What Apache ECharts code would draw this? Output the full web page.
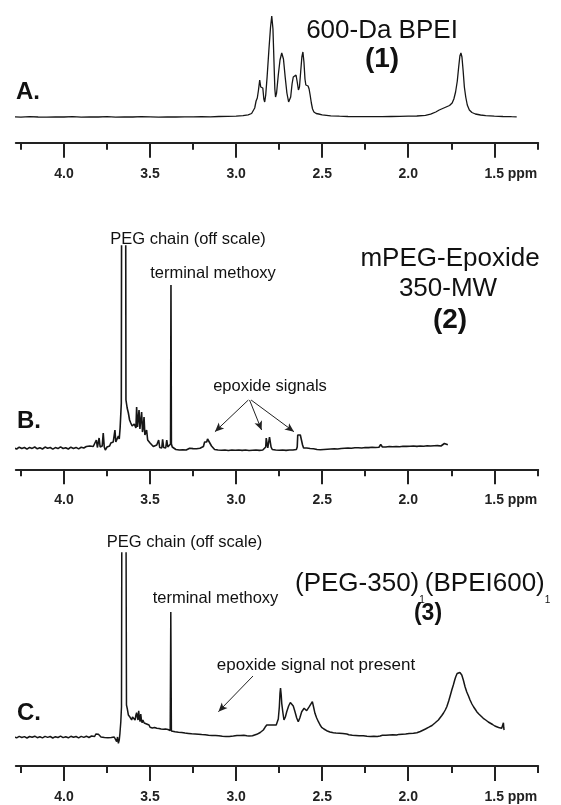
<!DOCTYPE html>
<html><head><meta charset="utf-8">
<script src="https://cdn.jsdelivr.net/npm/echarts@6/dist/echarts.min.js"></script>
<style>html,body{margin:0;padding:0;background:#fff}#c{width:561px;height:805px}</style>
</head><body><div id="c"></div>
<script>
// ---- tick labels (ppm) ----
const majorTicks = [4.0, 3.5, 3.0, 2.5, 2.0, 1.5];
const minorTicks = [4.25, 3.75, 3.25, 2.75, 2.25, 1.75, 1.25];

// ---- spectrum A: 600-Da BPEI  [ppm, intensity] ----
const specA = [[4.29,0.2],[4.25,-0.1],[4.2,0.3],[4.15,0],[4.1,-0.2],[4.05,0.2],[4.0,0],[3.95,0.3],[3.9,-0.1],[3.85,0.2],[3.8,0],[3.75,0.3],[3.7,-0.1],[3.65,0.2],[3.6,0],[3.55,0.3],[3.5,0.1],[3.45,-0.1],[3.4,0.2],[3.35,0],[3.3,0.2],[3.25,0.1],[3.2,0.3],[3.15,0.2],[3.1,0.5],[3.05,0.6],[3.0,0.8],[2.96,1.3],[2.93,2.2],[2.91,3.5],[2.9,5],[2.892,9],[2.884,16],[2.877,19],[2.87,27],[2.863,37],[2.857,30],[2.851,32],[2.845,29],[2.839,18],[2.834,15],[2.828,22],[2.82,40],[2.81,66],[2.8,90],[2.793,101],[2.786,88],[2.78,55],[2.775,28],[2.771,20],[2.765,24],[2.755,42],[2.745,57],[2.735,64],[2.725,58],[2.715,40],[2.705,24],[2.695,15],[2.69,14],[2.683,20],[2.675,33],[2.668,40],[2.66,39],[2.652,42],[2.645,35],[2.638,27],[2.632,30],[2.625,45],[2.618,60],[2.612,65],[2.606,55],[2.6,38],[2.595,32],[2.59,31],[2.582,31],[2.576,28],[2.57,22],[2.563,14],[2.556,8],[2.548,5],[2.535,3.5],[2.52,3],[2.5,2.2],[2.45,1.2],[2.4,0.8],[2.35,0.5],[2.3,0.4],[2.25,0.3],[2.2,0.4],[2.15,0.3],[2.1,0.5],[2.05,0.6],[2.0,0.8],[1.95,1],[1.9,1.6],[1.87,2.8],[1.84,5],[1.82,7],[1.8,8.5],[1.78,10],[1.76,11.5],[1.745,14],[1.735,18],[1.725,25],[1.715,36],[1.707,50],[1.7,61],[1.694,64],[1.688,60],[1.681,46],[1.674,30],[1.666,20],[1.657,12],[1.645,7],[1.63,4.5],[1.61,3],[1.58,2],[1.55,1.3],[1.5,0.8],[1.45,0.5],[1.4,0.3],[1.37,0.2]];

// ---- spectrum B: mPEG-Epoxide 350-MW ----
const specB = [[4.29,0],[4.275,-1],[4.26,0.8],[4.245,-0.5],[4.23,0.5],[4.215,-1.2],[4.2,0.6],[4.185,-0.4],[4.17,1],[4.155,-0.8],[4.14,0.3],[4.125,-1],[4.11,0.9],[4.095,-0.3],[4.08,0.5],[4.065,-1.1],[4.05,0.4],[4.035,-0.6],[4.02,1.1],[4.005,-0.5],[3.99,0.3],[3.975,-1],[3.96,0.8],[3.945,-0.4],[3.93,0.6],[3.915,-0.9],[3.9,0.7],[3.885,0],[3.87,1.5],[3.86,0.5],[3.85,2],[3.84,0.5],[3.83,1.5],[3.82,0.5],[3.812,8],[3.806,0.5],[3.8,2],[3.796,10],[3.79,1],[3.784,-1],[3.778,2],[3.772,15],[3.766,1],[3.76,-2],[3.756,-3.5],[3.75,1],[3.742,3],[3.735,2],[3.728,5],[3.72,3],[3.714,6],[3.708,4],[3.704,18],[3.699,6],[3.694,7],[3.688,5],[3.684,12],[3.679,9],[3.674,20],[3.67,34],[3.667,45],[3.664,400],[3.658,3000],[3.648,3000],[3.643,400],[3.64,48],[3.633,40],[3.626,35],[3.619,28],[3.612,25],[3.604,22],[3.597,20],[3.592,24],[3.587,26],[3.582,20],[3.578,41],[3.573,21],[3.568,22],[3.564,38],[3.559,19],[3.554,18],[3.549,36],[3.544,16],[3.54,20],[3.535,31],[3.53,13],[3.525,15],[3.52,18],[3.514,8],[3.507,9],[3.5,5],[3.492,3],[3.481,1.5],[3.47,2],[3.461,3],[3.455,1],[3.45,8],[3.444,0.5],[3.438,1],[3.432,0],[3.427,8.7],[3.421,0.5],[3.415,1],[3.409,0],[3.403,8],[3.397,1],[3.392,1.3],[3.386,3],[3.381,4],[3.3785,163],[3.376,4],[3.371,1],[3.365,0],[3.36,-0.5],[3.35,-1.5],[3.34,0],[3.33,-2],[3.32,-0.5],[3.31,-1.8],[3.3,-0.3],[3.29,-2],[3.28,-1],[3.27,-0.2],[3.26,-1.8],[3.25,-0.6],[3.24,-2.2],[3.23,-0.8],[3.22,-1.5],[3.21,-0.3],[3.2,-1.2],[3.19,1.5],[3.183,6],[3.177,8],[3.171,6],[3.166,9],[3.162,8],[3.156,6],[3.15,4],[3.143,2],[3.135,0],[3.125,-1.5],[3.115,-0.5],[3.105,-2],[3.095,-1],[3.085,-2.2],[3.075,-0.8],[3.065,-2],[3.055,-1.2],[3.045,-2.5],[3.035,-1],[3.025,-2],[3.015,-0.8],[3.005,-2.3],[2.995,-1.2],[2.985,-2],[2.975,-0.6],[2.965,-2.4],[2.955,-1.2],[2.945,-2],[2.935,-1],[2.925,-2.5],[2.915,-1.2],[2.905,-2.2],[2.895,-0.8],[2.885,-2],[2.875,-1],[2.865,-2.4],[2.855,-1],[2.845,-2],[2.835,-1.2],[2.828,1],[2.825,10],[2.82,9],[2.816,0],[2.81,1],[2.806,11],[2.801,10],[2.797,1],[2.79,-1.5],[2.78,-0.5],[2.77,-2],[2.76,-1],[2.75,-2.2],[2.74,-0.8],[2.73,-2],[2.72,-1],[2.71,-2.4],[2.7,-1],[2.69,-2],[2.68,-0.8],[2.67,-2],[2.66,-1],[2.65,-1.5],[2.645,1],[2.642,13],[2.637,14],[2.632,12],[2.627,13],[2.622,11],[2.618,12],[2.614,3],[2.608,0],[2.6,-1.5],[2.59,0],[2.58,-1.8],[2.57,-0.5],[2.56,-2],[2.55,-0.8],[2.54,0.3],[2.53,-1.5],[2.52,0],[2.51,-1.8],[2.5,-0.3],[2.49,-1.5],[2.48,0.2],[2.47,-1.2],[2.46,0.5],[2.45,-1],[2.44,0.8],[2.43,-0.8],[2.42,0.6],[2.41,-1],[2.4,0.8],[2.39,-0.5],[2.38,1.2],[2.37,-0.2],[2.36,1.5],[2.35,0],[2.34,1.2],[2.33,-0.3],[2.32,1.4],[2.31,0.2],[2.3,1.6],[2.29,0.3],[2.28,1.2],[2.27,0],[2.26,2],[2.25,0.5],[2.24,1.5],[2.23,0.4],[2.22,2.2],[2.21,0.8],[2.2,1.6],[2.19,0.5],[2.18,2],[2.17,0.8],[2.16,3.5],[2.15,1],[2.14,2.2],[2.13,1],[2.12,3],[2.11,1.5],[2.1,2.8],[2.09,1.2],[2.08,3.2],[2.07,1.5],[2.06,2.6],[2.05,1.3],[2.04,3],[2.03,1.8],[2.02,3.4],[2.01,1.6],[2.0,3],[1.99,1.8],[1.98,3.5],[1.97,2],[1.96,3.2],[1.95,1.6],[1.94,3.6],[1.93,2],[1.92,3.4],[1.91,1.8],[1.9,3.8],[1.89,2.2],[1.88,3.2],[1.87,2],[1.86,3.6],[1.85,2.2],[1.84,3],[1.83,2.4],[1.82,4],[1.81,2],[1.8,3.5],[1.79,4.5],[1.78,2.5],[1.77,3.2]];

// ---- spectrum C: (PEG-350)1(BPEI600)1 ----
const specC = [[4.29,0],[4.275,-0.8],[4.26,0.6],[4.245,-0.5],[4.23,0.4],[4.215,-1],[4.2,0.5],[4.185,-0.3],[4.17,0.8],[4.155,-0.7],[4.14,0.2],[4.125,-0.9],[4.11,0.6],[4.095,-0.4],[4.08,0.5],[4.065,-1],[4.05,0.3],[4.035,-0.5],[4.02,0.9],[4.005,-0.6],[3.99,0.2],[3.975,-0.8],[3.96,0.7],[3.945,-0.3],[3.93,0.5],[3.915,-0.9],[3.9,0.6],[3.885,-0.4],[3.87,0.8],[3.855,-0.5],[3.84,1],[3.83,2.5],[3.822,0.5],[3.815,3],[3.808,1.2],[3.8,2.7],[3.792,1],[3.785,0],[3.775,-1.3],[3.765,-0.5],[3.755,-1.5],[3.745,-0.8],[3.735,-1.6],[3.725,-0.6],[3.715,-1.3],[3.708,0],[3.704,2],[3.699,-2],[3.694,-4.7],[3.689,0],[3.684,-6.3],[3.679,-3],[3.675,3.7],[3.67,15],[3.666,30],[3.663,300],[3.658,3000],[3.647,3000],[3.641,300],[3.637,32],[3.632,28],[3.626,22],[3.621,20],[3.616,19.7],[3.611,18],[3.607,17],[3.602,20],[3.597,21],[3.592,18],[3.587,17],[3.582,22],[3.578,24.3],[3.574,20],[3.57,17],[3.566,26.3],[3.562,19],[3.558,15.3],[3.554,23],[3.55,17],[3.546,14.3],[3.542,17],[3.539,18.7],[3.534,14],[3.53,12],[3.525,13.5],[3.52,13],[3.512,11],[3.506,12],[3.5,9.7],[3.494,10.5],[3.487,9],[3.481,11],[3.474,9.5],[3.467,8.5],[3.461,8.7],[3.455,10],[3.448,8.5],[3.442,9.3],[3.436,8],[3.43,8.5],[3.423,7.7],[3.416,7.5],[3.41,8],[3.403,7],[3.396,7.5],[3.388,6.3],[3.383,6.5],[3.3795,125],[3.376,6],[3.37,6.3],[3.365,6.3],[3.355,5.2],[3.345,6],[3.335,4.8],[3.326,5.3],[3.316,4.5],[3.306,5.2],[3.297,4],[3.287,4.3],[3.277,3.6],[3.268,4.5],[3.258,3.2],[3.248,3.7],[3.238,3],[3.228,4],[3.219,2.8],[3.21,3],[3.2,2.4],[3.19,3.4],[3.18,2.2],[3.17,3],[3.16,1.8],[3.15,2.6],[3.14,1.6],[3.13,2.5],[3.12,1.4],[3.113,2],[3.1,1.2],[3.09,2],[3.08,0.8],[3.07,1.8],[3.06,0.6],[3.05,1.5],[3.04,0.5],[3.03,1.4],[3.016,1],[3.005,0.5],[2.995,1.6],[2.985,0.6],[2.975,1.5],[2.965,0.8],[2.955,1.8],[2.945,0.8],[2.938,1.3],[2.925,1],[2.915,1.8],[2.905,1.2],[2.895,2.2],[2.88,2.7],[2.87,3.5],[2.86,4.5],[2.851,5.3],[2.842,7],[2.832,9.7],[2.822,12],[2.813,14],[2.806,12],[2.799,11],[2.793,12],[2.787,13],[2.78,12],[2.774,10.5],[2.767,12],[2.761,14],[2.755,18],[2.749,30],[2.745,44],[2.742,49],[2.738,42],[2.735,33.7],[2.728,24],[2.722,17],[2.714,20],[2.706,25.3],[2.695,31],[2.685,34.5],[2.677,35.3],[2.668,31],[2.658,25.3],[2.648,19],[2.639,15.3],[2.63,19],[2.619,25.3],[2.612,27],[2.605,28.7],[2.598,27],[2.59,26.3],[2.582,28],[2.575,30.3],[2.566,32],[2.557,35.3],[2.55,30],[2.542,23.7],[2.532,19],[2.522,15.3],[2.512,12],[2.503,9.7],[2.49,8],[2.474,6.3],[2.455,5],[2.435,4.3],[2.42,4],[2.41,3.2],[2.4,3.8],[2.39,2.8],[2.38,3.5],[2.37,2.6],[2.357,3],[2.345,2.2],[2.335,2.8],[2.325,1.8],[2.315,2.4],[2.305,1.5],[2.295,2.2],[2.285,1.2],[2.275,2],[2.261,1.3],[2.25,1.8],[2.24,0.8],[2.23,1.6],[2.22,0.6],[2.21,1.5],[2.2,0.8],[2.19,1.6],[2.18,0.6],[2.164,1],[2.15,1.7],[2.14,0.8],[2.13,1.8],[2.12,1],[2.11,2],[2.1,1.2],[2.09,2.2],[2.08,1.4],[2.067,2],[2.055,2.6],[2.045,1.8],[2.035,2.8],[2.025,2.2],[2.015,3],[2.005,2.6],[1.995,3.4],[1.985,2.8],[1.97,3.7],[1.96,4.5],[1.95,4.2],[1.94,5.2],[1.93,5.5],[1.92,6.5],[1.912,7],[1.9,8],[1.89,8.8],[1.88,9.8],[1.87,10.5],[1.862,11.5],[1.854,12],[1.845,14],[1.835,15.5],[1.825,17],[1.815,18.7],[1.805,21.5],[1.795,24],[1.785,27],[1.776,30.3],[1.765,36],[1.755,42],[1.747,47],[1.738,52],[1.73,57],[1.724,60.3],[1.716,63.5],[1.709,65.3],[1.7,64.5],[1.689,62],[1.68,57],[1.67,50.3],[1.66,45],[1.65,41],[1.641,37],[1.63,33],[1.62,30],[1.61,27.5],[1.602,25.3],[1.59,23],[1.58,21.5],[1.564,18.7],[1.55,17],[1.535,15],[1.525,13.7],[1.51,12.5],[1.497,11],[1.486,10.3],[1.475,9.5],[1.465,10],[1.457,8.7],[1.45,9.5],[1.447,14.3],[1.445,9],[1.443,7]];

// ---- annotation arrows (data coordinates: [ppm, intensity]) ----
const arrowsB = [[[2.929,48],[3.123,16.3]],[[2.922,48],[2.852,18]],[[2.913,48],[2.664,16.3]]];
const arrowsC = [[[2.902,61],[3.103,25.3]]];

const FONT = '"Liberation Sans", Arial, Helvetica, sans-serif';
const INK = '#161616';

const panels = [
  {top: 10,  height: 132.7, ymin: -25.7, ymax: 107, data: specA, arrows: [], lw: 1.3},
  {top: 246, height: 223.3, ymin: -21.3, ymax: 202, data: specB, arrows: arrowsB, lw: 1.6},
  {top: 553, height: 213,   ymin: -29,   ymax: 184, data: specC, arrows: arrowsC, lw: 1.5}
];

const grid = [], xAxis = [], yAxis = [], series = [];
panels.forEach((p, i) => {
  grid.push({left: 15.8, width: 522.4, top: p.top, height: p.height, containLabel: false, outerBoundsMode: 'none'});
  const base = {type: 'value', gridIndex: i, position: 'bottom', inverse: true, min: 1.245, max: 4.28,
    splitLine: {show: false}, minorTick: {show: false}};
  xAxis.push(Object.assign({}, base, {
    axisLine: {show: true, onZero: false, lineStyle: {color: '#222', width: 2}},
    axisTick: {show: true, customValues: majorTicks, length: 15, lineStyle: {color: '#222', width: 2}},
    axisLabel: {show: true, customValues: majorTicks, margin: 24,
      formatter: v => Math.abs(v - 1.5) < 1e-6 ? '{s|}{v|1.5}{g|}{p|ppm}' : '{v|' + v.toFixed(1) + '}',
      rich: {
        s: {width: 33},
        v: {fontFamily: FONT, fontSize: 14, fontWeight: 'bold', color: '#222'},
        g: {width: 4},
        p: {fontFamily: FONT, fontSize: 14, fontWeight: 'bold', color: '#222', width: 29, align: 'left'}
      }}
  }));
  xAxis.push(Object.assign({}, base, {
    axisLine: {show: false, onZero: false},
    axisTick: {show: true, customValues: minorTicks, length: 7, lineStyle: {color: '#222', width: 2}},
    axisLabel: {show: false}
  }));
  yAxis.push({type: 'value', gridIndex: i, show: false, min: p.ymin, max: p.ymax, splitLine: {show: false}});
  const s = {
    type: 'line', xAxisIndex: 2 * i, yAxisIndex: i, data: p.data, showSymbol: false, symbol: 'none',
    clip: true, silent: true, animation: false,
    lineStyle: {color: INK, width: p.lw}
  };
  if (p.arrows.length) {
    s.markLine = {
      silent: true, animation: false, symbol: ['none', 'arrow'], symbolSize: [6, 9],
      lineStyle: {color: '#222', width: 1, type: 'solid'}, label: {show: false},
      emphasis: {disabled: true},
      data: p.arrows.map(a => [{coord: a[0]}, {coord: a[1]}])
    };
  }
  series.push(s);
});

function txt(x, y, text, font, align) {
  return {type: 'text', x: x, y: y, silent: true,
    style: {text: text, font: font, fill: '#111', align: align || 'center', verticalAlign: 'middle',
            textAlign: align || 'center', textVerticalAlign: 'middle'}};
}
const graphic = [
  txt(382, 31, '600-Da BPEI', '26px ' + FONT),
  txt(382, 59, '(1)', 'bold 28px ' + FONT),
  txt(16, 92, 'A.', 'bold 24px ' + FONT, 'left'),
  txt(188, 239.5, 'PEG chain (off scale)', '16.5px ' + FONT),
  txt(213, 273.5, 'terminal methoxy', '16.5px ' + FONT),
  txt(450, 259, 'mPEG-Epoxide', '26px ' + FONT),
  txt(448, 289, '350-MW', '26px ' + FONT),
  txt(450, 320, '(2)', 'bold 28px ' + FONT),
  txt(270, 386.5, 'epoxide signals', '16.5px ' + FONT),
  txt(17, 421, 'B.', 'bold 24px ' + FONT, 'left'),
  txt(184.5, 542, 'PEG chain (off scale)', '16.5px ' + FONT),
  txt(215.5, 598.5, 'terminal methoxy', '16.5px ' + FONT),
  {type: 'text', x: 295, y: 584, silent: true, style: {
    text: '{m|(PEG-350)}{s|1}{m|(BPEI600)}{s|1}', fill: '#111',
    align: 'left', verticalAlign: 'middle', textAlign: 'left', textVerticalAlign: 'middle',
    rich: {m: {font: '26px ' + FONT, fill: '#111'}, s: {font: '10px ' + FONT, fill: '#111', padding: [33, 0, 0, 0]}}
  }},
  txt(428, 614, '(3)', 'bold 23px ' + FONT),
  txt(316, 665, 'epoxide signal not present', '17px ' + FONT),
  txt(17, 713.5, 'C.', 'bold 24px ' + FONT, 'left')
];

const chart = echarts.init(document.getElementById('c'), null, {renderer: 'canvas'});
chart.setOption({
  animation: false, backgroundColor: '#fff',
  grid: grid, xAxis: xAxis, yAxis: yAxis, series: series, graphic: graphic,
  tooltip: {show: false}
});
</script></body></html>
